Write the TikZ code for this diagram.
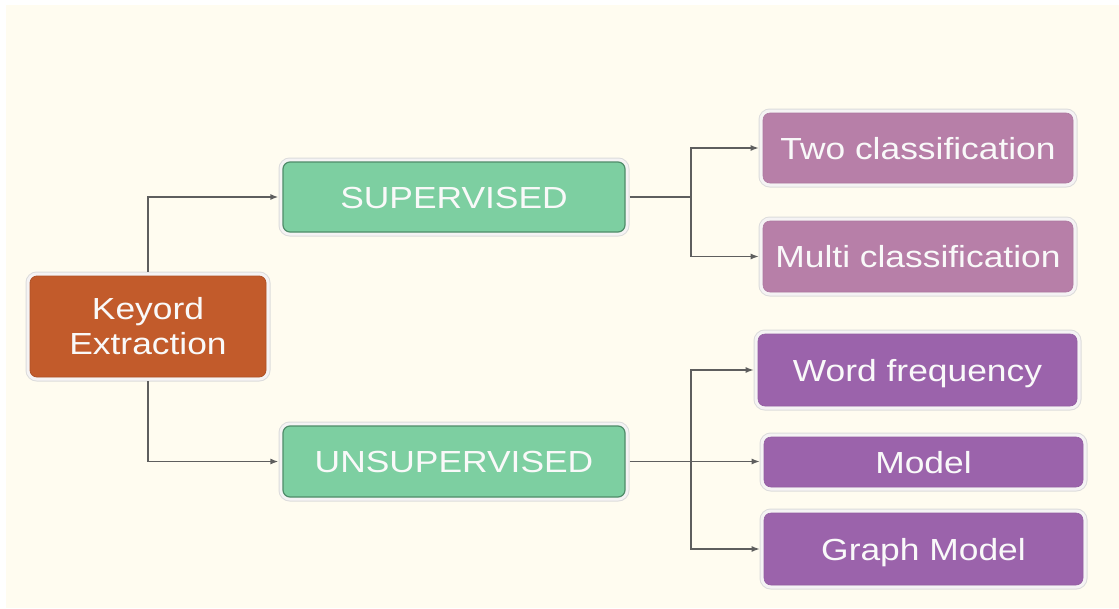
\documentclass[tikz,border=0pt]{standalone}
\usepackage{fontspec}
\setmainfont{Liberation Sans}[FakeStretch=1.16]
\usetikzlibrary{arrows.meta}

\definecolor{paper}{HTML}{FFFCF0}
\definecolor{rootfill}{HTML}{C25B2B}
\definecolor{greenfill}{HTML}{7DCFA1}
\definecolor{greenline}{HTML}{4F8C69}
\definecolor{mauvefill}{HTML}{B77FA8}
\definecolor{purplefill}{HTML}{9B63AB}
\definecolor{haloline}{HTML}{DCDCDC}
\definecolor{halofill}{HTML}{F5F3F4}
\definecolor{wire}{HTML}{5E5E5E}
\definecolor{label}{HTML}{F9F9F9}

\tikzset{
  box/.style={
    rounded corners=7pt, inner sep=0pt, align=center,
    text=label, font=\fontsize{30.5}{35}\selectfont,
    preaction={draw=haloline, line width=9pt},
    preaction={draw=halofill, line width=7pt}
  },
  oneline/.style={text height=22pt, text depth=0pt},
  rootbox/.style={box, fill=rootfill, draw=rootfill!90!black, line width=0.8pt},
  greenbox/.style={box, oneline, fill=greenfill, draw=greenline, line width=1.2pt},
  mauvebox/.style={box, oneline, fill=mauvefill, draw=mauvefill!95!black, line width=0.6pt},
  purplebox/.style={box, oneline, fill=purplefill, draw=purplefill!95!black, line width=0.6pt},
  wireline/.style={draw=wire, line width=1.4pt},
  conn/.style={wireline, -{Latex[length=8pt,width=6pt]}, shorten >=4pt},
  stem/.style={shorten <=4pt}
}

\begin{document}
\begin{tikzpicture}[x=1pt, y=-1pt]
  \useasboundingbox (0,0) rectangle (1119,608);
  \fill[white] (0,0) rectangle (1119,608);
  \fill[paper] (6,5) rectangle (1119,608);

  % root and the two branches
  \node[rootbox, minimum width=236pt, minimum height=101pt] (key) at (148,326.5) {\raisebox{2pt}{Keyord}\\\raisebox{2pt}{Extraction}};
  \node[greenbox, minimum width=342pt, minimum height=70pt] (sup) at (454,197) {SUPERVISED};
  \node[greenbox, minimum width=342pt, minimum height=71pt] (uns) at (454,461.5) {UNSUPERVISED};

  % supervised leaves
  \node[mauvebox, minimum width=310pt, minimum height=70pt] (two) at (918,148) {Two classification};
  \node[mauvebox, minimum width=310pt, minimum height=71pt] (multi) at (918,256.5) {Multi classification};

  % unsupervised leaves
  \node[purplebox, minimum width=319pt, minimum height=72pt] (wf) at (917.5,370) {Word frequency};
  \node[purplebox, minimum width=319pt, minimum height=50pt] (model) at (923.5,462) {Model};
  \node[purplebox, minimum width=319pt, minimum height=72pt] (graph) at (923.5,549) {Graph Model};

  % junction points of the forks
  \coordinate (j1) at (691,197);
  \coordinate (j2) at (691,461.5);

  % connectors
  \draw[conn, stem] (key.north) |- (sup.west);
  \draw[conn, stem] (key.south) |- (uns.west);

  \draw[wireline, stem] (sup.east) -- (j1);
  \draw[conn] (j1) |- (two.west);
  \draw[conn] (j1) |- (multi.west);

  \draw[conn, stem] (uns.east) -- (uns.east -| model.west);
  \draw[conn] (j2) |- (wf.west);
  \draw[conn] (j2) |- (graph.west);
\end{tikzpicture}
\end{document}
